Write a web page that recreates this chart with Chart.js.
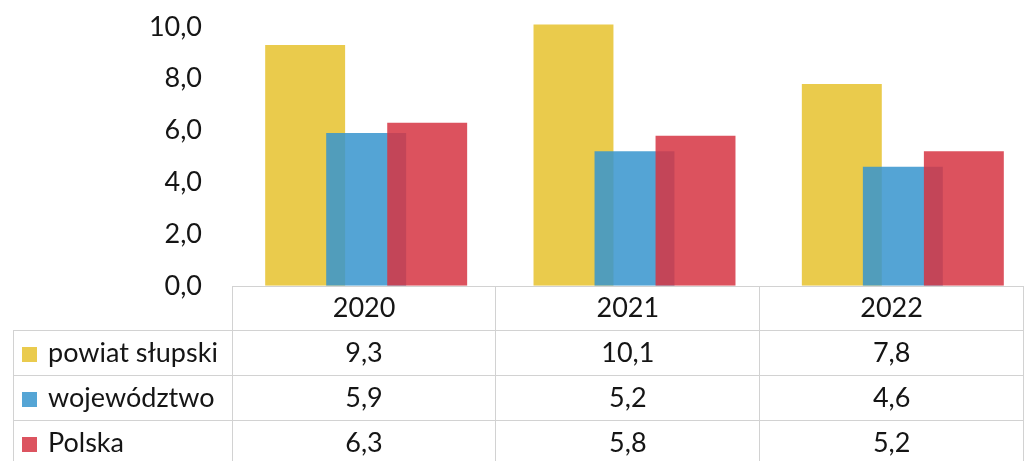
<!DOCTYPE html>
<html>
<head>
<meta charset="utf-8">
<script src="https://cdn.jsdelivr.net/npm/chart.js@4.4.1/dist/chart.umd.min.js"></script>
<style>
  body { margin: 0; width: 1024px; height: 461px; overflow: hidden; background: #fff; position: relative; }
  #wrap { position: absolute; left: 0; top: -71px; width: 1040px; height: 403px; }
  #tbl { position: absolute; left: 13px; top: 286px; border-collapse: collapse; table-layout: fixed;
         font-family: Lato, "Open Sans", sans-serif; font-size: 27px; color: #151515; }
  #tbl td { border: 1px solid #d2d2d2; text-align: center; padding: 0 0 4px 0; white-space: nowrap; }
  #tbl td.name { text-align: left; padding-left: 8px; }
  #tbl td.blank { border: none; }
  .key { display: inline-block; width: 15px; height: 15px; margin-right: 11px; vertical-align: 0px; }
</style>
</head>
<body>
<div id="wrap"><canvas id="chart" width="1040" height="403"></canvas></div>
<table id="tbl"></table>
<script>
const categories = ["2020", "2021", "2022"];
const seriesNames = ["powiat słupski", "województwo", "Polska"];
const powiatValues = [9.3, 10.1, 7.8];
const wojValues = [5.9, 5.2, 4.6];
const polskaValues = [6.3, 5.8, 5.2];
const yTicks = [0, 2, 4, 6, 8, 10, 12];

const seriesValues = [powiatValues, wojValues, polskaValues];
const colors = ["rgba(231,194,47,0.86)", "rgba(56,149,206,0.86)", "rgba(214,54,68,0.86)"];
const keyColors = ["#eacb4e", "#55a5d5", "#dc5460"];
const shift = [-0.2274, 0, 0.2274]; // series offset inside a year (Excel overlap)

const fmt = (v) => v.toFixed(1).replace(".", ",");

// table under the chart
const tbl = document.getElementById("tbl");
let html = '<colgroup><col style="width:219px">';
categories.forEach(() => { html += '<col style="width:268.33px">'; });
html += "</colgroup><tr style=\"height:44px\"><td class=\"blank\"></td>";
categories.forEach((c) => { html += "<td>" + c + "</td>"; });
html += "</tr>";
seriesNames.forEach((name, s) => {
  html += "<tr style=\"height:45px\"><td class=\"name\"><span class=\"key\" style=\"background:" + keyColors[s] + "\"></span>" + name + "</td>";
  seriesValues[s].forEach((v) => { html += "<td>" + fmt(v) + "</td>"; });
  html += "</tr>";
});
tbl.innerHTML = html;

const ctx = document.getElementById("chart").getContext("2d");
const datasets = seriesNames.map((name, s) => ({
  label: name,
  data: seriesValues[s].map((v, i) => ({ x: i + shift[s], y: v })),
  backgroundColor: colors[s],
  borderWidth: 0,
  grouped: false,
  categoryPercentage: 1,
  barPercentage: 1.31,
  order: 3 - s, // later series drawn on top
}));

new Chart(ctx, {
  type: "bar",
  data: { datasets: datasets },
  options: {
    responsive: false,
    animation: false,
    layout: { padding: { top: 0, right: 3, bottom: 0, left: 0 } },
    plugins: { legend: { display: false }, tooltip: { enabled: false } },
    scales: {
      x: {
        type: "linear",
        min: -0.5,
        max: categories.length - 0.5,
        offset: false,
        display: false,
      },
      y: {
        min: yTicks[0],
        max: yTicks[yTicks.length - 1],
        afterFit: (scale) => { scale.width = 232; },
        afterBuildTicks: (scale) => { scale.ticks = yTicks.map((v) => ({ value: v })); },
        grid: { display: false, drawTicks: false },
        border: { display: false },
        ticks: {
          padding: 30,
          color: "#151515",
          font: { family: "Lato", size: 27 },
          callback: (value) => fmt(value),
        },
      },
    },
  },
});
</script>
</body>
</html>
